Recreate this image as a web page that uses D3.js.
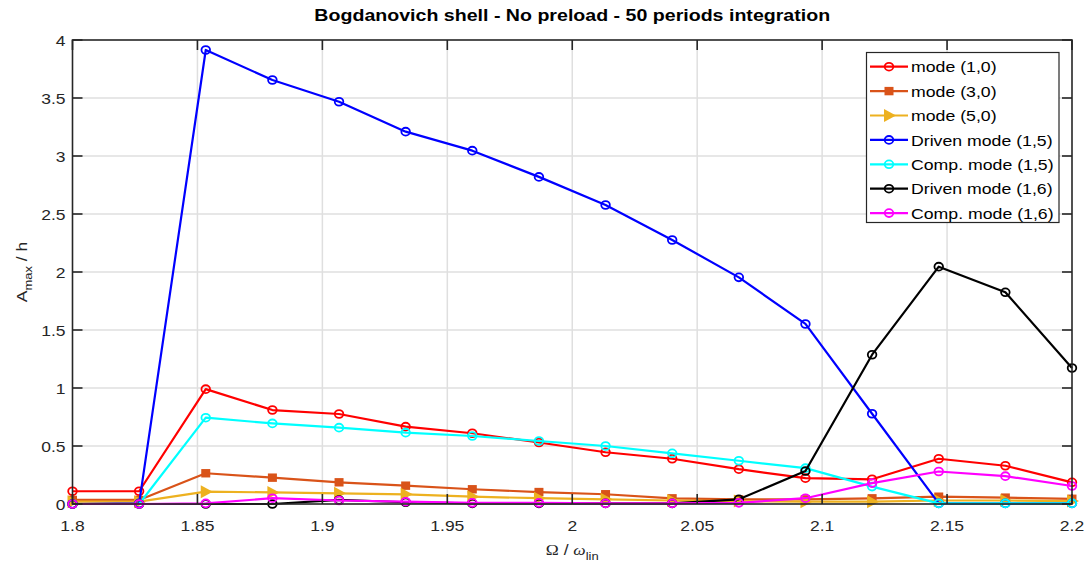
<!DOCTYPE html>
<html>
<head>
<meta charset="utf-8">
<script src="https://cdn.jsdelivr.net/npm/d3@7"></script>
<style>
  html, body { margin: 0; padding: 0; background: #fff; }
  svg { display: block; font-family: "Liberation Sans", Arial, Helvetica, sans-serif; }
</style>
</head>
<body>
<svg id="chart" width="1085" height="572"></svg>
<script>
// Excitation frequency ratio samples (16 runs between 1.8 and 2.2)
const omega = [1.8, 1.82667, 1.85333, 1.88, 1.90667, 1.93333, 1.96, 1.98667,
               2.01333, 2.04, 2.06667, 2.09333, 2.12, 2.14667, 2.17333, 2.2];

// Maximum amplitude / thickness for each mode
const mode10    = [0.11, 0.11, 0.99, 0.81, 0.776, 0.667, 0.61, 0.53, 0.446, 0.39, 0.30, 0.223, 0.213, 0.39, 0.33, 0.187];
const mode30    = [0.035, 0.035, 0.265, 0.227, 0.187, 0.158, 0.127, 0.103, 0.084, 0.049, 0.04, 0.04, 0.049, 0.063, 0.055, 0.045];
const mode50    = [0.02, 0.02, 0.106, 0.1, 0.092, 0.083, 0.063, 0.05, 0.04, 0.03, 0.025, 0.02, 0.02, 0.03, 0.03, 0.025];
const driven15  = [0.0, 0.005, 3.914, 3.655, 3.468, 3.21, 3.046, 2.82, 2.578, 2.276, 1.954, 1.552, 0.778, 0.005, 0.005, 0.005];
const comp15    = [0.0, 0.0, 0.744, 0.695, 0.658, 0.615, 0.586, 0.543, 0.5, 0.437, 0.373, 0.309, 0.15, 0.005, 0.005, 0.005];
const driven16  = [0.0, 0.0, 0.0, 0.0, 0.035, 0.015, 0.005, 0.005, 0.005, 0.005, 0.04, 0.284, 1.287, 2.046, 1.825, 1.172];
const comp16    = [0.0, 0.0, 0.005, 0.05, 0.03, 0.02, 0.01, 0.01, 0.005, 0.005, 0.01, 0.05, 0.18, 0.28, 0.24, 0.155];

const seriesNames  = ["mode (1,0)", "mode (3,0)", "mode (5,0)", "Driven mode (1,5)",
                      "Comp. mode (1,5)", "Driven mode (1,6)", "Comp. mode (1,6)"];
const seriesValues = [mode10, mode30, mode50, driven15, comp15, driven16, comp16];
const seriesColors = ["#ff0000", "#d95319", "#edb120", "#0000ff", "#00ffff", "#000000", "#ff00ff"];
const seriesMarker = ["circle", "square", "triangle", "circle", "circle", "circle", "circle"];

const xTicks = [1.8, 1.85, 1.9, 1.95, 2, 2.05, 2.1, 2.15, 2.2];
const yTicks = [0, 0.5, 1, 1.5, 2, 2.5, 3, 3.5, 4];

const titleText = "Bogdanovich shell - No preload - 50 periods integration";

const svg = d3.select("#chart");
const pL = 72.5, pR = 1072, pT = 40, pB = 504;
const x = d3.scaleLinear().domain([1.8, 2.2]).range([pL, pR]);
const y = d3.scaleLinear().domain([0, 4]).range([pB, pT]);
const axisColor = "#262626";
const axFont = 17.5;     // axes font size
const SY = 0.86;         // the figure is a little flatter than tall: text is squeezed vertically

// text placed at (px, py) and squeezed vertically by SY
function label(parent, px, py, size, anchor, extra) {
  return parent.append("text")
    .attr("transform", `translate(${px},${py}) scale(1,${SY})` + (extra || ""))
    .attr("text-anchor", anchor).attr("font-size", size);
}

// grid
const grid = svg.append("g").attr("stroke", "#dfdfdf").attr("stroke-width", 1.5);
grid.selectAll("line.gx").data(xTicks.slice(1, -1)).join("line").attr("class", "gx")
  .attr("x1", d => x(d)).attr("x2", d => x(d)).attr("y1", pT).attr("y2", pB);
grid.selectAll("line.gy").data(yTicks.slice(1, -1)).join("line").attr("class", "gy")
  .attr("y1", d => y(d)).attr("y2", d => y(d)).attr("x1", pL).attr("x2", pR);

function drawMarkers(g, pts, type, c) {
  if (type === "circle") {
    g.selectAll("ellipse").data(pts).join("ellipse")
      .attr("cx", d => d[0]).attr("cy", d => d[1]).attr("rx", 4.3).attr("ry", 3.9)
      .attr("fill", "none").attr("stroke", c).attr("stroke-width", 1.8);
  } else if (type === "square") {
    g.selectAll("rect").data(pts).join("rect")
      .attr("x", d => d[0] - 4.5).attr("y", d => d[1] - 4.2)
      .attr("width", 9).attr("height", 8.4).attr("fill", c);
  } else {
    g.selectAll("path.tri").data(pts).join("path").attr("class", "tri")
      .attr("d", d => `M${d[0] + 7},${d[1]} L${d[0] - 5},${d[1] - 6.5} L${d[0] - 5},${d[1] + 6.5} Z`)
      .attr("fill", c);
  }
}

// series lines and markers
const line = d3.line().x((d, i) => x(omega[i])).y(d => y(d));
seriesValues.forEach((vals, k) => {
  const g = svg.append("g");
  const c = seriesColors[k];
  g.append("path").attr("d", line(vals)).attr("fill", "none")
    .attr("stroke", c).attr("stroke-width", 2.2).attr("stroke-linejoin", "round");
  drawMarkers(g, vals.map((v, i) => [x(omega[i]), y(v)]), seriesMarker[k], c);
});

// axes box with inward ticks on all four sides
const axG = svg.append("g").attr("stroke", axisColor).attr("stroke-width", 1.6).attr("fill", "none");
axG.append("rect").attr("x", pL).attr("y", pT).attr("width", pR - pL).attr("height", pB - pT);
const tickLen = 10;
xTicks.forEach(t => {
  axG.append("line").attr("x1", x(t)).attr("x2", x(t)).attr("y1", pB).attr("y2", pB - tickLen);
  axG.append("line").attr("x1", x(t)).attr("x2", x(t)).attr("y1", pT).attr("y2", pT + tickLen);
});
yTicks.forEach(t => {
  axG.append("line").attr("y1", y(t)).attr("y2", y(t)).attr("x1", pL).attr("x2", pL + tickLen);
  axG.append("line").attr("y1", y(t)).attr("y2", y(t)).attr("x1", pR).attr("x2", pR - tickLen);
});

// tick labels
const fmt = d => String(d);
const xtG = svg.append("g").attr("fill", axisColor);
xTicks.forEach(t => label(xtG, x(t), pB + 27, axFont, "middle").text(fmt(t)));
const ytG = svg.append("g").attr("fill", axisColor);
yTicks.forEach(t => label(ytG, pL - 7, y(t) + 5.5, axFont, "end").text(fmt(t)));

// title
label(svg, (pL + pR) / 2, 21, 19.6, "middle")
  .attr("font-weight", "bold").attr("fill", "#000").text(titleText);

// axis labels
const xl = label(svg, (pL + pR) / 2, 555, axFont, "middle").attr("fill", axisColor);
xl.append("tspan").attr("font-family", "'Liberation Serif', 'Times New Roman', serif").text("Ω");
xl.append("tspan").text(" / ");
xl.append("tspan").attr("font-family", "'Liberation Serif', 'Times New Roman', serif").attr("font-style", "italic").text("ω");
xl.append("tspan").attr("font-size", 13).attr("dy", 6).text("lin");

const yl = svg.append("text")
  .attr("transform", `translate(27,${(pT + pB) / 2}) scale(${SY},1) rotate(-90)`)
  .attr("text-anchor", "middle").attr("font-size", axFont).attr("fill", axisColor);
yl.append("tspan").text("A");
yl.append("tspan").attr("font-size", 13).attr("dy", 6).text("max");
yl.append("tspan").attr("dy", -6).text(" / h");

// legend
const lg = svg.append("g");
const lgX = 866.5, lgY = 52.5, lgW = 192.5, lgH = 170;
lg.append("rect").attr("x", lgX).attr("y", lgY).attr("width", lgW).attr("height", lgH)
  .attr("fill", "#fff").attr("stroke", axisColor).attr("stroke-width", 1.2);
seriesNames.forEach((name, k) => {
  const cy = 66.7 + k * 24.4;
  const c = seriesColors[k];
  const row = lg.append("g");
  row.append("line").attr("x1", 870).attr("x2", 908).attr("y1", cy).attr("y2", cy)
    .attr("stroke", c).attr("stroke-width", 2.2);
  drawMarkers(row, [[889, cy]], seriesMarker[k], c);
  label(row, 911, cy + 5.6, 17.7, "start").attr("fill", "#000").text(name);
});
</script>
</body>
</html>
